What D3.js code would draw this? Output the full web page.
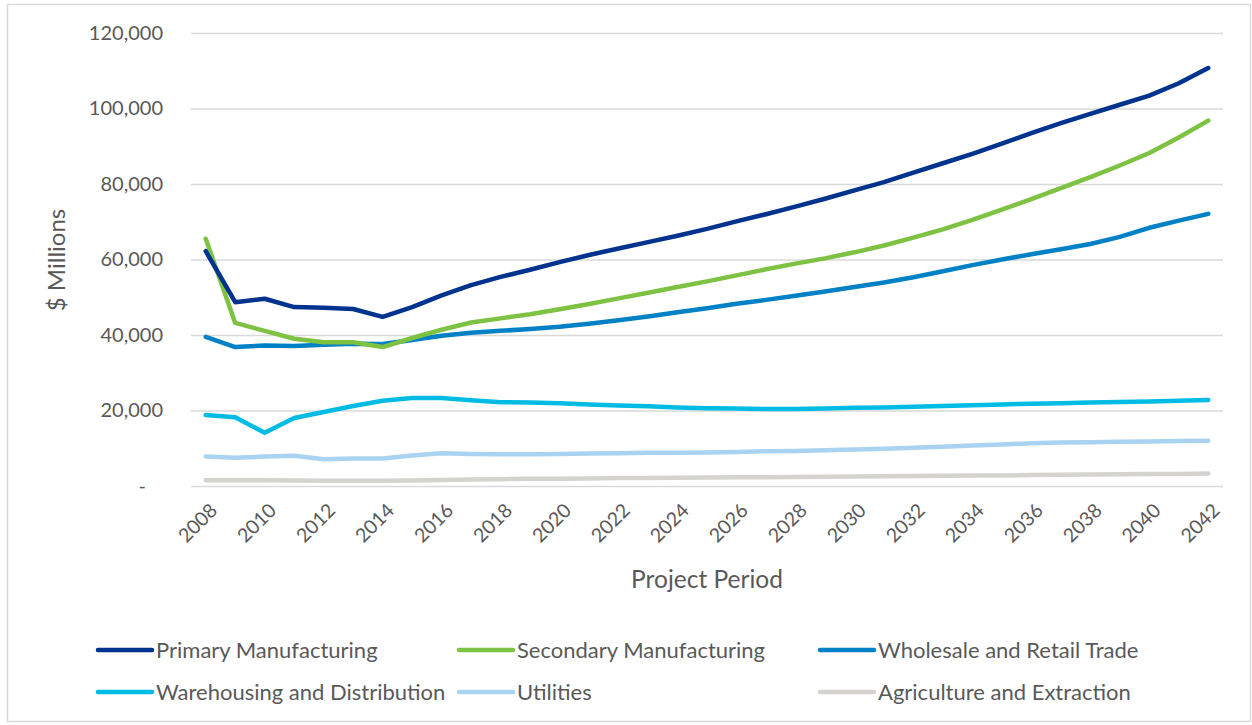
<!DOCTYPE html>
<html>
<head>
<meta charset="utf-8">
<script src="https://cdn.jsdelivr.net/npm/d3@7"></script>
<style>
  html, body { margin: 0; padding: 0; background: #fff; }
  svg { display: block; }
  text { font-family: Lato, "Open Sans", sans-serif; fill: #595959; }
</style>
</head>
<body>
<svg id="chart" width="1252" height="725"></svg>
<script>
// Projected output by sector, $ millions, 2008–2042
const years = d3.range(2008, 2043);

const primaryManufacturing = [
  62200, 48700, 49600, 47400, 47200, 46900, 44800, 47400, 50500, 53200,
  55400, 57300, 59300, 61200, 62900, 64600, 66300, 68100, 70100, 72000,
  74000, 76100, 78300, 80500, 83000, 85500, 88000, 90700, 93500, 96100,
  98600, 101000, 103400, 106700, 110700
];
const secondaryManufacturing = [
  65500, 43200, 41100, 39000, 38100, 38100, 36800, 39200, 41400, 43300,
  44400, 45500, 46800, 48200, 49700, 51200, 52700, 54200, 55800, 57400,
  58900, 60300, 61900, 63700, 65800, 68000, 70500, 73200, 76000, 78900,
  81800, 84900, 88200, 92300, 96800
];
const wholesaleRetail = [
  39500, 36800, 37200, 37100, 37400, 37700, 37600, 38700, 39800, 40600,
  41100, 41600, 42200, 43000, 43900, 44900, 46000, 47100, 48300, 49300,
  50400, 51500, 52700, 53900, 55300, 56900, 58500, 60000, 61400, 62700,
  64100, 66000, 68400, 70300, 72100
];
const warehousingDistribution = [
  18800, 18200, 14100, 18000, 19600, 21200, 22600, 23300, 23300, 22700,
  22200, 22100, 21900, 21600, 21300, 21100, 20800, 20600, 20500, 20400,
  20400, 20500, 20700, 20800, 21000, 21200, 21400, 21600, 21800, 21950,
  22100, 22250, 22400, 22600, 22800
];
const utilities = [
  7800, 7500, 7800, 8000, 7100, 7300, 7300, 8100, 8700, 8500,
  8400, 8400, 8500, 8600, 8700, 8800, 8800, 8900, 9000, 9200,
  9300, 9500, 9700, 9900, 10100, 10400, 10700, 11000, 11300, 11500,
  11600, 11700, 11800, 11900, 12000
];
const agricultureExtraction = [
  1500, 1500, 1500, 1450, 1400, 1400, 1400, 1450, 1600, 1700,
  1800, 1900, 1950, 2000, 2100, 2150, 2200, 2250, 2300, 2350,
  2400, 2450, 2500, 2600, 2650, 2700, 2750, 2800, 2900, 3000,
  3050, 3100, 3150, 3200, 3300
];

const seriesNames = [
  "Primary Manufacturing", "Secondary Manufacturing", "Wholesale and Retail Trade",
  "Warehousing and Distribution", "Utilities", "Agriculture and Extraction"
];
const seriesColors = ["#00338D", "#7DC242", "#0081C6", "#00BCE4", "#A9D3F0", "#D4D3CF"];
const seriesValues = [
  primaryManufacturing, secondaryManufacturing, wholesaleRetail,
  warehousingDistribution, utilities, agricultureExtraction
];

const yTicks = [0, 20000, 40000, 60000, 80000, 100000, 120000];
const xTickYears = years.filter(y => (y - 2008) % 2 === 0);

const svg = d3.select("#chart");

// outer frame
svg.append("rect")
  .attr("x", 7.5).attr("y", 4.5).attr("width", 1243).attr("height", 717)
  .attr("fill", "none").attr("stroke", "#D9D9D9").attr("stroke-width", 1.5);

const plot = { left: 191, right: 1223, top: 33, bottom: 486 };

const x = d3.scaleBand().domain(years).range([plot.left, plot.right]);
const cx = yr => x(yr) + x.bandwidth() / 2;
const y = d3.scaleLinear().domain([0, 120000]).range([plot.bottom, plot.top]);

// horizontal gridlines
const grid = svg.append("g")
  .attr("transform", `translate(${plot.left},0)`)
  .call(d3.axisLeft(y).tickValues(yTicks).tickSize(-(plot.right - plot.left)).tickFormat(""));
grid.select(".domain").remove();
grid.selectAll(".tick line").attr("stroke", "#D9D9D9").attr("stroke-width", 1.5);

// y axis labels
const yAxis = svg.append("g")
  .attr("transform", `translate(${plot.left},0)`)
  .call(d3.axisLeft(y).tickValues(yTicks).tickSize(0).tickPadding(28)
    .tickFormat(d => d === 0 ? "-" : d3.format(",")(d)));
yAxis.select(".domain").remove();
yAxis.selectAll("text")
  .attr("font-size", 20).attr("fill", "#595959")
  .style("font-family", "Lato, sans-serif")
  .attr("dx", d => d === 0 ? -17 : 0);

// x axis labels (every other year, rotated)
const xAxis = svg.append("g")
  .attr("transform", `translate(0,${plot.bottom})`)
  .call(d3.axisBottom(x).tickValues(xTickYears).tickSize(0).tickFormat(d3.format("d")));
xAxis.select(".domain").remove();
xAxis.selectAll("text")
  .attr("font-size", 19.5).attr("fill", "#595959")
  .style("font-family", "Lato, sans-serif")
  .attr("text-anchor", "end")
  .attr("y", 0).attr("dy", "0.35em")
  .attr("transform", "translate(8,21) rotate(-45)");

// axis titles
svg.append("text")
  .attr("transform", "translate(65,260) rotate(-90)")
  .attr("text-anchor", "middle")
  .attr("font-size", 24)
  .text("$ Millions");

svg.append("text")
  .attr("x", 707).attr("y", 588)
  .attr("text-anchor", "middle")
  .attr("font-size", 24.5)
  .text("Project Period");

// series lines, drawn back to front
const line = d3.line()
  .x((d, i) => cx(years[i]))
  .y(d => y(d));

const order = [5, 4, 3, 2, 1, 0];
svg.append("g").selectAll("path")
  .data(order)
  .join("path")
  .attr("d", i => line(seriesValues[i]))
  .attr("fill", "none")
  .attr("stroke", i => seriesColors[i])
  .attr("stroke-width", 4.5)
  .attr("stroke-linecap", "round")
  .attr("stroke-linejoin", "round");

// legend: 3 columns x 2 rows
const legendCols = [98, 459, 820];
const legendRows = [650, 692];
const legend = svg.append("g").selectAll("g")
  .data(seriesNames)
  .join("g")
  .attr("transform", (d, i) => `translate(${legendCols[i % 3]},${legendRows[Math.floor(i / 3)]})`);
legend.append("line")
  .attr("x1", 0).attr("x2", 54).attr("y1", 0).attr("y2", 0)
  .attr("stroke", (d, i) => seriesColors[i])
  .attr("stroke-width", 4.5)
  .attr("stroke-linecap", "round");
legend.append("text")
  .attr("x", 58).attr("y", 0).attr("dy", "0.35em")
  .attr("font-size", 22)
  .text(d => d);
</script>
</body>
</html>
